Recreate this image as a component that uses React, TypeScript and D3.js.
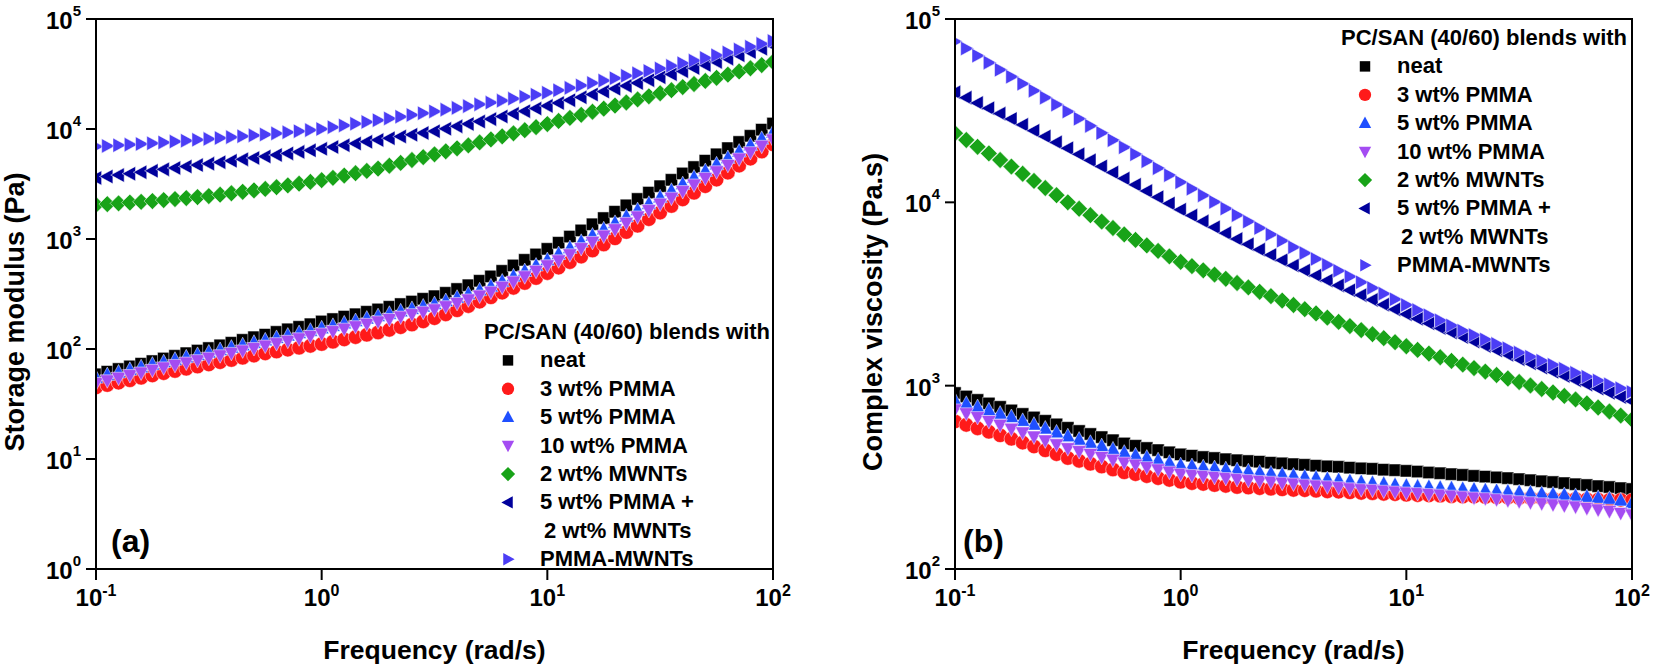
import * as d3 from 'd3'
import { useEffect, useRef } from 'react'

// angular frequency (rad/s), 20 points per decade
const freq = [0.1,0.1122,0.1259,0.1413,0.1585,0.1778,0.1995,0.2239,0.2512,0.2818,
    0.3162,0.3548,0.3981,0.4467,0.5012,0.5623,0.631,0.7079,0.7943,0.8913,
    1,1.122,1.259,1.413,1.585,1.778,1.995,2.239,2.512,2.818,
    3.162,3.548,3.981,4.467,5.012,5.623,6.31,7.079,7.943,8.913,
    10,11.22,12.59,14.13,15.85,17.78,19.95,22.39,25.12,28.18,
    31.62,35.48,39.81,44.67,50.12,56.23,63.1,70.79,79.43,89.13,
    100]

// (a) storage modulus G' (Pa)
const gNeat = [58.9,62.2,65.8,69.5,73.5,77.6,82.0,86.7,91.6,96.8,
    102,108,114,121,128,135,143,151,159,168,
    178,187,197,207,218,229,242,256,270,286,
    302,324,351,380,417,457,513,575,646,724,
    813,925,1052,1197,1361,1549,1770,2023,2312,2642,
    3020,3451,3945,4508,5152,5888,6699,7621,8670,9863,
    11220]
const gPmma3 = [44.7,47.0,49.4,52.0,54.7,57.5,60.3,63.1,66.1,69.2,
    72.4,75.9,79.4,83.2,87.1,91.2,94.8,98.6,102.6,106.7,
    110.9,116.4,122.2,128.2,134.6,141.3,149.3,157.8,166.7,178.2,
    190.5,206.5,224.9,245.5,269.2,295.1,325.1,359.7,398.1,441.6,
    489.8,549.5,616.6,691.8,785.2,891.3,1014,1156,1318,1514,
    1738,1995,2291,2630,3020,3467,4009,4645,5370,6237,
    7244]
const gPmma5 = [55.0,58.1,61.4,64.9,68.5,72.4,76.2,80.2,84.3,88.7,
    93.3,98.2,103.3,108.6,114.3,120.2,126.5,133.0,140.0,147.2,
    154.9,162.9,171.4,180.3,189.7,199.5,209.9,220.8,232.3,244.3,
    257.0,274.2,293.8,316.2,342.8,371.5,412.1,459.2,512.9,575.4,
    645.7,732.8,831.8,946.2,1079,1230,1406,1607,1837,2099,
    2399,2754,3162,3631,4169,4786,5470,6252,7145,8166,
    9333]
const gPmma10 = [49.0,51.8,54.7,57.8,61.0,64.5,67.9,71.5,75.1,79.0,
    83.1,87.5,92.0,96.8,101.8,107.1,112.7,118.5,124.7,131.2,
    138.0,145.1,152.7,160.6,169.0,177.8,187.0,196.7,207.0,217.7,
    229.0,244.3,261.8,281.7,305.4,331.0,367.2,409.1,457.0,512.7,
    575.3,638.3,724.5,824.2,939.8,1071,1225,1400,1600,1828,
    2090,2368,2719,3123,3585,4116,4704,5377,6145,7023,
    8026]
const gMwnt2 = [2042,2075,2109,2143,2178,2213,2259,2307,2355,2404,
    2455,2529,2606,2685,2767,2851,2958,3069,3184,3304,
    3428,3597,3776,3963,4159,4365,4634,4920,5224,5546,
    5888,6266,6668,7096,7551,8035,8570,9141,9750,10400,
    11090,11830,12620,13460,14350,15310,16330,17420,18580,19820,
    21130,22540,24040,25640,27350,29170,31190,33340,35650,38110,
    40740]
const gPmma5Mwnt2 = [3589,3698,3811,3926,4046,4169,4295,4426,4560,4699,
    4842,4989,5140,5297,5458,5623,5808,5998,6194,6397,
    6607,6855,7112,7379,7656,7943,8241,8551,8872,9204,
    9550,10050,10570,11120,11690,12300,13000,13740,14520,15350,
    16220,17220,18280,19410,20610,21880,23230,24660,26180,27800,
    29510,31480,33570,35810,38190,40740,43650,46770,50120,53700,
    57540]
const gPmmaMwnt = [6918,7015,7112,7211,7311,7413,7551,7691,7834,7980,
    8128,8279,8433,8590,8750,8913,9120,9333,9550,9772,
    10000,10380,10770,11170,11590,12020,12470,12940,13430,13930,
    14450,15000,15560,16140,16750,17380,18110,18880,19680,20510,
    21380,22490,23660,24890,26180,27540,28970,30480,32060,33730,
    35480,37500,39630,41880,44260,46770,49660,52720,55980,59430,
    63100]

// (b) complex viscosity (Pa.s)
const etaNeat = [912,873,836,800,766,733,701,671,643,615,
    589,566,545,524,504,484,470,457,445,433,
    422,415,408,403,397,392,388,385,380,377,
    373,370,366,363,361,357,354,352,348,346,
    343,340,336,333,329,326,322,319,316,313,
    309,305,301,298,294,290,287,283,280,276,
    273]
const etaPmma3 = [638,611,585,560,536,513,489,466,444,423,
    403,389,375,362,349,337,329,321,313,306,
    299,294,291,287,284,280,278,276,274,272,
    270,269,267,265,264,262,260,259,257,256,
    254,253,252,251,249,248,248,247,246,245,
    244,244,243,242,242,241,240,239,238,238,
    237]
const etaPmma5 = [832,798,766,735,705,676,644,614,585,557,
    531,509,489,469,450,432,418,406,393,381,
    369,365,360,356,351,347,342,337,333,328,
    324,319,315,310,306,302,299,295,292,288,
    285,282,281,278,276,274,272,269,267,265,
    263,261,258,256,254,251,248,245,242,237,
    229]
const etaPmma10 = [741,706,673,641,611,582,555,527,502,478,
    455,439,424,408,394,380,370,359,349,339,
    330,325,321,317,313,309,305,302,299,295,
    292,288,285,282,279,275,272,270,267,264,
    261,259,256,254,251,248,245,243,240,237,
    234,231,228,225,222,219,215,211,207,202,
    198]
const etaMwnt2 = [23820,21880,20090,18490,17020,15670,14320,13090,11970,10940,
    10000,9226,8511,7852,7244,6683,6237,5821,5433,5070,
    4732,4487,4256,4036,3828,3631,3436,3251,3076,2911,
    2754,2612,2477,2350,2228,2113,2009,1910,1816,1726,
    1641,1567,1496,1429,1365,1303,1247,1194,1143,1094,
    1047,1002,959,918,879,841,800,760,723,687,
    653]
const etaPmma5Mwnt2 = [39810,37240,34830,32580,30480,28510,26490,24600,22860,21230,
    19720,18280,16940,15700,14550,13490,12470,11530,10670,9863,
    9120,8472,7870,7311,6792,6310,5902,5521,5164,4831,
    4519,4246,3990,3750,3524,3311,3119,2938,2767,2606,
    2455,2317,2188,2065,1950,1841,1742,1648,1560,1476,
    1396,1324,1256,1191,1130,1072,1016,964,914,867,
    822]
const etaPmmaMwnt = [75340,69020,63100,57810,52840,48420,44360,40640,37240,34120,
    31260,28580,26120,23880,21830,19950,18280,16750,15350,14060,
    12880,11860,10910,10050,9247,8511,7852,7244,6683,6166,
    5689,5284,4909,4560,4236,3936,3664,3412,3177,2958,
    2754,2582,2421,2270,2128,1995,1888,1786,1690,1600,
    1514,1439,1368,1300,1236,1175,1119,1067,1016,968,
    923]

const seriesNames = ['neat','3 wt% PMMA','5 wt% PMMA','10 wt% PMMA','2 wt% MWNTs','5 wt% PMMA +','PMMA-MWNTs']
const seriesShapes = ['square','circle','up','down','diamond','left','right']
const seriesColors = ['#000000','#ff1a1a','#1f4fff','#a44cf2','#18a318','#00009c','#4b3df5']
const legendTitle = 'PC/SAN (40/60) blends with'
const legendWrap = '2 wt% MWNTs'

const xTicks = [0.1, 1, 10, 100]
const yTicksA = [1, 10, 100, 1000, 10000, 100000]
const yTicksB = [100, 1000, 10000, 100000]

const FONT = '"Liberation Sans", Arial, Helvetica, sans-serif'

type Panel = {
    left:number, right:number, top:number, bottom:number,
    yDomain:[number,number], yTicks:number[], yLabel:string, yLabelX:number,
    tag:string, tagX:number, legendX:number, legendY:number,
    series:number[][]
}

const panels:Panel[] = [
    { left:96, right:773, top:19, bottom:569, yDomain:[1,100000], yTicks:yTicksA,
      yLabel:'Storage modulus (Pa)', yLabelX:23.5, tag:'(a)', tagX:111,
      legendX:540, legendY:339,
      series:[gNeat,gPmma3,gPmma5,gPmma10,gMwnt2,gPmma5Mwnt2,gPmmaMwnt] },
    { left:955, right:1632, top:19, bottom:569, yDomain:[100,100000], yTicks:yTicksB,
      yLabel:'Complex viscosity (Pa.s)', yLabelX:882, tag:'(b)', tagX:963,
      legendX:1397, legendY:45,
      series:[etaNeat,etaPmma3,etaPmma5,etaPmma10,etaMwnt2,etaPmma5Mwnt2,etaPmmaMwnt] },
]

const shapePoints:any = {
    up: [[0,-7],[6.5,5],[-6.5,5]],
    down: [[0,7],[6.5,-5],[-6.5,-5]],
    left: [[-7,0],[5,-6.5],[5,6.5]],
    right: [[7,0],[-5,-6.5],[-5,6.5]],
    diamond: [[0,-7.5],[7.5,0],[0,7.5],[-7.5,0]],
}

function markerPath(shape:string, k:number){
    const p = d3.path()
    if (shape === 'square') {
        p.rect(-5.5*k, -5.5*k, 11*k, 11*k)
    } else if (shape === 'circle') {
        p.moveTo(6.5*k, 0)
        p.arc(0, 0, 6.5*k, 0, 2*Math.PI)
    } else {
        shapePoints[shape].forEach((pt:number[], i:number) => {
            if (i === 0) p.moveTo(pt[0]*k, pt[1]*k)
            else p.lineTo(pt[0]*k, pt[1]*k)
        })
        p.closePath()
    }
    return p.toString()
}

function drawPanel(svg:any, panel:Panel, idx:number){
    const x = d3.scaleLog().domain([0.1, 100]).range([panel.left, panel.right])
    const y = d3.scaleLog().domain(panel.yDomain).range([panel.bottom, panel.top])
    const w = panel.right - panel.left
    const h = panel.bottom - panel.top

    const clipId = 'plotclip' + idx
    svg.append('defs').append('clipPath').attr('id', clipId)
        .append('rect')
        .attr('x', panel.left).attr('y', panel.top)
        .attr('width', w).attr('height', h)

    const marks = svg.append('g').attr('clip-path', `url(#${clipId})`)
    panel.series.forEach((vals, s) => {
        marks.append('g')
            .selectAll('path')
            .data(vals)
            .join('path')
            .attr('transform', (d:number, i:number) => `translate(${x(freq[i])},${y(d)})`)
            .attr('d', markerPath(seriesShapes[s], 1.12))
            .attr('fill', seriesColors[s])
            .attr('stroke', '#ffffff')
            .attr('stroke-width', 0.5)
    })

    // frame
    svg.append('rect')
        .attr('x', panel.left).attr('y', panel.top)
        .attr('width', w).attr('height', h)
        .attr('fill', 'none')
        .attr('stroke', '#000')
        .attr('stroke-width', 2)

    // x ticks
    const xg = svg.append('g')
    xg.selectAll('line')
        .data(xTicks)
        .join('line')
        .attr('x1', (d:number) => x(d)).attr('x2', (d:number) => x(d))
        .attr('y1', panel.bottom).attr('y2', panel.bottom + 11)
        .attr('stroke', '#000').attr('stroke-width', 2)
    xTicks.forEach(t => {
        const txt = xg.append('text')
            .attr('x', x(t)).attr('y', panel.bottom + 37)
            .attr('text-anchor', 'middle')
            .attr('font-size', 24)
        txt.append('tspan').text('10')
        txt.append('tspan').attr('dy', -10).attr('font-size', 16).text(String(Math.round(Math.log10(t))))
    })

    // y ticks
    const yg = svg.append('g')
    yg.selectAll('line')
        .data(panel.yTicks)
        .join('line')
        .attr('x1', panel.left - 10).attr('x2', panel.left)
        .attr('y1', (d:number) => y(d)).attr('y2', (d:number) => y(d))
        .attr('stroke', '#000').attr('stroke-width', 2)
    panel.yTicks.forEach(t => {
        const txt = yg.append('text')
            .attr('x', panel.left - 15).attr('y', y(t) + 10)
            .attr('text-anchor', 'end')
            .attr('font-size', 24)
        txt.append('tspan').text('10')
        txt.append('tspan').attr('dy', -13).attr('font-size', 15).text(String(Math.round(Math.log10(t))))
    })

    // axis titles
    svg.append('text')
        .attr('x', (panel.left + panel.right) / 2)
        .attr('y', 659)
        .attr('text-anchor', 'middle')
        .attr('font-size', 26.5)
        .text('Frequency (rad/s)')
    svg.append('text')
        .attr('transform', `translate(${panel.yLabelX},312) rotate(-90)`)
        .attr('text-anchor', 'middle')
        .attr('font-size', 27)
        .text(panel.yLabel)

    svg.append('text')
        .attr('x', panel.tagX).attr('y', 552)
        .attr('font-size', 32)
        .text(panel.tag)

    // legend
    const lg = svg.append('g')
    const rowH = 28.4
    lg.append('text')
        .attr('x', panel.legendX - 56).attr('y', panel.legendY)
        .attr('font-size', 22)
        .text(legendTitle)
    seriesNames.forEach((name, s) => {
        const row = s < 6 ? s + 1 : s + 2
        const by = panel.legendY + rowH * row
        lg.append('path')
            .attr('transform', `translate(${panel.legendX - 32},${by - 7})`)
            .attr('d', markerPath(seriesShapes[s], 0.95))
            .attr('fill', seriesColors[s])
        lg.append('text')
            .attr('x', panel.legendX).attr('y', by)
            .attr('font-size', 22)
            .text(name)
    })
    lg.append('text')
        .attr('x', panel.legendX + 4).attr('y', panel.legendY + rowH * 7)
        .attr('font-size', 22)
        .text(legendWrap)
}

export default function App(){

    const svgRef = useRef(null) as any

    useEffect(() => {
        const svg = d3.select(svgRef.current)
        svg.selectAll('*').remove()
        svg.append('rect').attr('width', 1654).attr('height', 669).attr('fill', '#fff')
        panels.forEach((p, i) => drawPanel(svg, p, i))
    }, [])

    return (
        <div style={{position:'absolute', left:0, top:0}}>
            <svg ref={svgRef} width={1654} height={669}
                style={{display:'block', fontFamily:FONT, fontWeight:'bold'}}/>
        </div>
    )
}
